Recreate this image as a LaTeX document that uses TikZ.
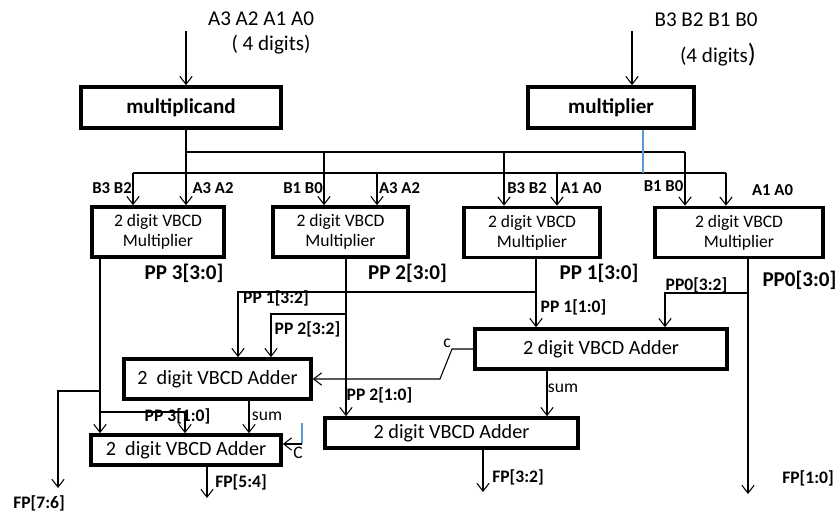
\documentclass[tikz,border=0pt]{standalone}
\usepackage{fontspec}
\setmainfont{Carlito}
\usetikzlibrary{arrows.meta}
\definecolor{tapblue}{RGB}{91,155,213}
\tikzset{
    arr/.style={-{Straight Barb[length=4.5pt,width=7pt]}},
    unit/.style={draw, line width=2.1pt, align=center, inner sep=0pt},
    regbox/.style={unit, minimum height=0.82cm, font=\bfseries\fontsize{12}{14}\selectfont},
    mulbox/.style={unit, minimum height=1.0cm, font=\fontsize{10}{11.5}\selectfont},
    addbox/.style={unit, font=\fontsize{11.5}{13}\selectfont},
    inlbl/.style={inner sep=0pt, font=\bfseries\fontsize{9.5}{11}\selectfont},
    pplbl/.style={inner sep=0pt, font=\bfseries\fontsize{12}{14}\selectfont},
    wirelbl/.style={inner sep=0pt, font=\bfseries\fontsize{10}{12}\selectfont},
    plainlbl/.style={inner sep=0pt, font=\fontsize{10}{12}\selectfont},
    toplbl/.style={inner sep=0pt, font=\fontsize{12}{14}\selectfont},
}
\begin{document}
\begin{tikzpicture}[x=0.02cm, y=-0.02cm, line width=0.6pt]
    \useasboundingbox (0,0) rectangle (837,514);

    % operands
    \node[toplbl] (opA) at (261,19) {A3 A2 A1 A0};
    \node[toplbl] (opAd) at (271,45) {( 4 digits)};
    \node[toplbl] (opB) at (706,20) {B3 B2 B1 B0};
    \node[toplbl] (opBd) at (718,55) {(4 digits{\fontsize{15}{15}\selectfont)}};

    \node[regbox, minimum width=4.0cm] (mcand) at (181,107.5) {multiplicand};
    \node[regbox, minimum width=3.32cm] (mplier) at (611,107.5) {multiplier};

    \coordinate (srcA) at (186,31);
    \coordinate (srcB) at (632,31);
    \draw[arr] (srcA) -- (srcA |- mcand.north);
    \draw[arr] (srcB) -- (srcB |- mplier.north);

    % 2 digit multipliers
    \node[mulbox, minimum width=2.64cm] (mul3) at (158,232) {2 digit VBCD\\Multiplier};
    \node[mulbox, minimum width=2.70cm] (mul2) at (340.5,232) {2 digit VBCD\\Multiplier};
    \node[mulbox, minimum width=2.72cm] (mul1) at (532,232.5) {2 digit VBCD\\Multiplier};
    \node[mulbox, minimum width=3.36cm] (mul0) at (739,232.5) {2 digit VBCD\\Multiplier};

    % buses
    \foreach \x/\m in {186/mul3, 324/mul2, 504/mul1, 685/mul0}{
        \coordinate (a\m) at (\x,152);
        \draw[arr] (a\m) -- (a\m |- \m.north);
    }
    \foreach \x/\m in {133/mul3, 377/mul2, 557/mul1, 726/mul0}{
        \coordinate (b\m) at (\x,173);
        \draw[arr] (b\m) -- (b\m |- \m.north);
    }
    \draw (mcand.south -| amul3) -- (amul3) -- (amul0);
    \draw (bmul3) -- (bmul0);
    \coordinate (bTap) at (643,173);
    \draw[tapblue] (mplier.south -| bTap) -- (bTap);

    \node[inlbl] (in3b) at (112,188) {B3 B2};
    \node[inlbl] (in3a) at (213,188) {A3 A2};
    \node[inlbl] (in2b) at (303,188) {B1 B0};
    \node[inlbl] (in2a) at (399.5,188) {A3 A2};
    \node[inlbl] (in1b) at (527,188) {B3 B2};
    \node[inlbl] (in1a) at (581,188) {A1 A0};
    \node[inlbl] (in0b) at (663.5,186) {B1 B0};
    \node[inlbl] (in0a) at (772.5,190) {A1 A0};

    \node[pplbl] (lpp3) at (184,273) {PP 3[3:0]};
    \node[pplbl] (lpp2) at (407.5,273) {PP 2[3:0]};
    \node[pplbl] (lpp1) at (599,273) {PP 1[3:0]};
    \node[pplbl] (lpp0) at (799.5,280) {PP0[3:0]};

    % adders
    \node[addbox, minimum width=3.74cm, minimum height=0.80cm] (addA) at (217.5,379) {2\ \ digit VBCD Adder};
    \node[addbox, minimum width=5.04cm, minimum height=0.80cm] (addB) at (601,349) {2 digit VBCD Adder};
    \node[addbox, minimum width=3.80cm, minimum height=0.60cm] (addC) at (186,450) {2\ \ digit VBCD Adder};
    \node[addbox, minimum width=5.06cm, minimum height=0.60cm] (addD) at (451.5,433) {2 digit VBCD Adder};

    % PP3
    \coordinate (fk3a) at (100,391);
    \coordinate (fk3b) at (100,412);
    \coordinate (fp76) at (58,488);
    \coordinate (pp3lo) at (185,412);
    \draw[arr] (fk3a |- mul3.south) -- (fk3a |- addC.north);
    \draw[arr] (fk3a) -- (fk3a -| fp76) -- (fp76);
    \draw[arr] (fk3b) -- (pp3lo) -- (pp3lo |- addC.north);

    % PP2
    \coordinate (fk2) at (346,314);
    \coordinate (pp2hi) at (271,314);
    \draw[arr] (fk2 |- mul2.south) -- (fk2 |- addD.north);
    \draw[arr] (fk2) -- (pp2hi) -- (pp2hi |- addA.north);

    % PP1
    \coordinate (fk1) at (536,292);
    \coordinate (pp1hi) at (238,292);
    \draw[arr] (fk1 |- mul1.south) -- (fk1 |- addB.north);
    \draw[arr] (fk1) -- (pp1hi) -- (pp1hi |- addA.north);

    % PP0
    \coordinate (fk0) at (748,293);
    \coordinate (pp0hi) at (665,293);
    \coordinate (fp10) at (748,494);
    \draw[arr] (fk0 |- mul0.south) -- (fp10);
    \draw[arr] (fk0) -- (pp0hi) -- (pp0hi |- addB.north);

    % carries and sums
    \coordinate (cKnee) at (452,349);
    \coordinate (cFoot) at (440,379);
    \draw[arr] (addB.west) -- (cKnee) -- (cFoot) -- (addA.east);
    \coordinate (sumA) at (249,401);
    \draw[arr] (sumA |- addA.south) -- (sumA |- addC.north);
    \coordinate (sumB) at (547,371);
    \draw[arr] (sumB |- addB.south) -- (sumB |- addD.north);
    \coordinate (cTop) at (302,423);
    \coordinate (cIn) at (302,444);
    \draw[tapblue] (cTop) -- (cIn);
    \draw[arr] (cIn) -- (cIn -| addC.east);

    \coordinate (fp54) at (207,498);
    \draw[arr] (fp54 |- addC.south) -- (fp54);
    \coordinate (fp32) at (483,492);
    \draw[arr] (fp32 |- addD.south) -- (fp32);

    % wire labels
    \node[wirelbl] (lpp1hi) at (276,298) {PP 1[3:2]};
    \node[wirelbl] (lpp2hi) at (307.5,329) {PP 2[3:2]};
    \node[wirelbl] (lpp0hi) at (696.5,285) {PP0[3:2]};
    \node[wirelbl] (lpp1lo) at (573.5,307) {PP 1[1:0]};
    \node[wirelbl] (lpp2lo) at (379.5,395) {PP 2[1:0]};
    \node[wirelbl] (lpp3lo) at (177.5,416) {PP 3[1:0]};
    \node[plainlbl] (lc) at (447,343) {c};
    \node[plainlbl] (lsumA) at (267,416) {sum};
    \node[plainlbl] (lsumB) at (563,388) {sum};
    \node[plainlbl] (lC) at (298,453) {C};

    \node[wirelbl] (lfp76) at (39,503) {FP[7:6]};
    \node[wirelbl] (lfp54) at (241,482) {FP[5:4]};
    \node[wirelbl] (lfp32) at (518,477) {FP[3:2]};
    \node[wirelbl] (lfp10) at (808,478) {FP[1:0]};
\end{tikzpicture}
\end{document}
